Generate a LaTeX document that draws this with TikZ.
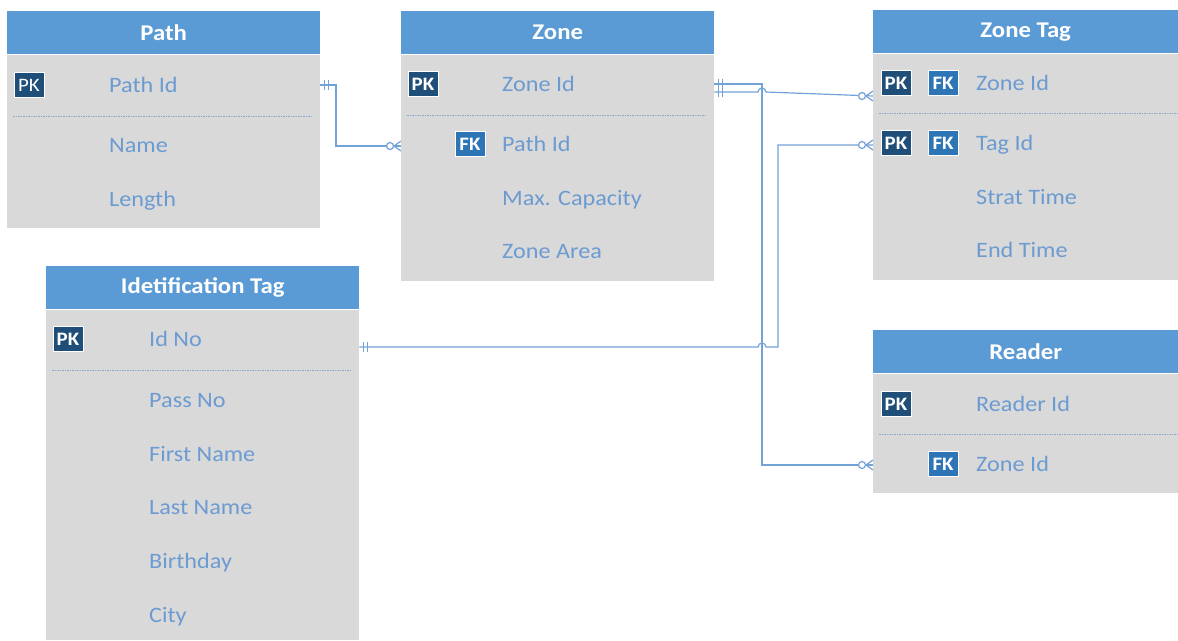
\documentclass[tikz,border=0pt]{standalone}
\usepackage{fontspec}
\setmainfont{Carlito}[FakeStretch=1.1]
\usetikzlibrary{calc}
\definecolor{hdr}{HTML}{5B9BD5}
\definecolor{bodyg}{HTML}{D9D9D9}
\definecolor{txt}{HTML}{6C9BD2}
\definecolor{pkc}{HTML}{1F4E79}
\definecolor{fkc}{HTML}{2E75B6}
\definecolor{lnc}{HTML}{73A2D6}
\definecolor{dotc}{HTML}{8AA6C8}
\newcommand\onemark[1]{\draw[conn,line width=1pt] ($(#1)+(4,-5)$) -- ($(#1)+(4,5)$) ($(#1)+(8,-5)$) -- ($(#1)+(8,5)$);}
\newcommand\zmany[1]{\draw[conn,fill=white] ($(#1)+(-11,0)$) circle[radius=3.5pt]; \draw[conn] ($(#1)+(-7,0)$) -- ($(#1)+(0,-5)$) ($(#1)+(-7,0)$) -- ($(#1)+(0,5)$);}
\begin{document}
\begin{tikzpicture}[x=1pt,y=-1pt,
  hdrbox/.style={fill=hdr, anchor=north west, inner sep=0, minimum height=43pt, text=white, font=\fontsize{22.5}{26}\selectfont\bfseries},
  bodybox/.style={fill=bodyg, anchor=north west, inner sep=0},
  fld/.style={text=txt, anchor=base west, inner sep=0, font=\fontsize{22}{26}\selectfont},
  pk/.style={fill=pkc, draw=white, line width=0.8pt, minimum width=30pt, minimum height=25pt, inner sep=0, text=white, font=\fontsize{19}{20}\selectfont\bfseries},
  fk/.style={pk, fill=fkc},
  sep/.style={dotc, dash pattern=on 1.5pt off 1pt, line width=0.8pt},
  conn/.style={lnc, line width=1.2pt}]
\useasboundingbox (0,0) rectangle (1178,640);
\fill[white] (0,0) rectangle (1178,640);

% ---------- Path ----------
\node[bodybox, minimum width=313pt, minimum height=173pt] (pathbody) at (7,55) {};
\node[hdrbox, minimum width=313pt] (pathhdr) at (7,11) {Path};
\node[pk, font=\fontsize{19}{20}\selectfont] (ppk) at (29,85) {PK};
\node[fld] (ppathid) at (109,92) {Path Id};
\draw[sep] (13,116) -- (313,116);
\node[fld] (pname) at (109,152) {Name};
\node[fld] (plength) at (109,206) {Length};

% ---------- Zone ----------
\node[bodybox, minimum width=313pt, minimum height=226pt] (zonebody) at (401,55) {};
\node[hdrbox, minimum width=313pt] (zonehdr) at (401,11) {Zone};
\node[pk] (zpk) at (423,84) {PK};
\node[fld] (zzoneid) at (502,91) {Zone Id};
\draw[sep] (407,115) -- (707,115);
\node[fk] (zfk) at (470,144) {FK};
\node[fld] (zpathid) at (502,151) {Path Id};
\node[fld] (zcap) at (502,205) {Max. Capacity};
\node[fld] (zarea) at (502,258) {Zone Area};

% ---------- Zone Tag ----------
\node[bodybox, minimum width=305pt, minimum height=226pt] (ztbody) at (873,54) {};
\node[hdrbox, minimum width=305pt] (zthdr) at (873,10) {Zone Tag};
\node[pk] (ztpk1) at (896,83) {PK};
\node[fk] (ztfk1) at (943,83) {FK};
\node[fld] (ztzoneid) at (976,90) {Zone Id};
\draw[sep] (879,113) -- (1178,113);
\node[pk] (ztpk2) at (896,143) {PK};
\node[fk] (ztfk2) at (943,143) {FK};
\node[fld] (zttagid) at (976,150) {Tag Id};
\node[fld] (ztstart) at (976,204) {Strat Time};
\node[fld] (ztend) at (976,257) {End Time};

% ---------- Idetification Tag ----------
\node[bodybox, minimum width=313pt, minimum height=330pt] (idbody) at (46,310) {};
\node[hdrbox, minimum width=313pt] (idhdr) at (46,266) {Idetification Tag};
\node[pk] (idpk) at (68,339) {PK};
\node[fld] (idno) at (149,346) {Id No};
\draw[sep] (52,370) -- (352,370);
\node[fld] (idpass) at (149,407) {Pass No};
\node[fld] (idfirst) at (149,461) {First Name};
\node[fld] (idlast) at (149,514) {Last Name};
\node[fld] (idbirth) at (149,568) {Birthday};
\node[fld] (idcity) at (149,622) {City};

% ---------- Reader ----------
\node[bodybox, minimum width=305pt, minimum height=119pt] (rdbody) at (873,374) {};
\node[hdrbox, minimum width=305pt] (rdhdr) at (873,330) {Reader};
\node[pk] (rdpk) at (896,404) {PK};
\node[fld] (rdid) at (976,411) {Reader Id};
\draw[sep] (879,434) -- (1178,434);
\node[fk] (rdfk) at (943,464) {FK};
\node[fld] (rdzone) at (976,471) {Zone Id};

% ---------- Connectors ----------
\coordinate (c1) at (336,0);
\coordinate (v1) at (762,0);
\coordinate (v2) at (778,0);

% Path -> Zone
\coordinate (s1) at (pathbody.east |- ppk);
\coordinate (e1) at ($(zonebody.west |- zfk)+(0,2)$);
\draw[conn] (s1) -- (c1 |- s1) -- (c1 |- e1) -- (e1);
\onemark{s1}
\zmany{e1}

% Zone -> Reader
\coordinate (s2) at (zonebody.east |- zpk);
\coordinate (e2) at ($(rdbody.west |- rdfk)+(0,1)$);
\draw[conn] (s2) -- (v1 |- s2) -- (v1 |- e2) -- (e2);
\onemark{s2}
\zmany{e2}

% Zone -> Zone Tag
\coordinate (s3) at ($(zonebody.east |- zpk)+(0,8)$);
\coordinate (e3) at ($(ztbody.west |- ztpk1)+(0,13)$);
\draw[conn] (s3) -- ($(v1 |- s3)+(-4,0)$) arc[start angle=180, end angle=0, radius=4pt] -- (e3);
\onemark{s3}
\zmany{e3}

% Idetification Tag -> Zone Tag
\coordinate (s4) at ($(idbody.east |- idpk)+(0,8)$);
\coordinate (e4) at ($(ztbody.west |- ztpk2)+(0,2)$);
\draw[conn] (s4) -- ($(v1 |- s4)+(-4,0)$) arc[start angle=180, end angle=0, radius=4pt] -- (v2 |- s4) -- (v2 |- e4) -- (e4);
\onemark{s4}
\zmany{e4}
\end{tikzpicture}
\end{document}
